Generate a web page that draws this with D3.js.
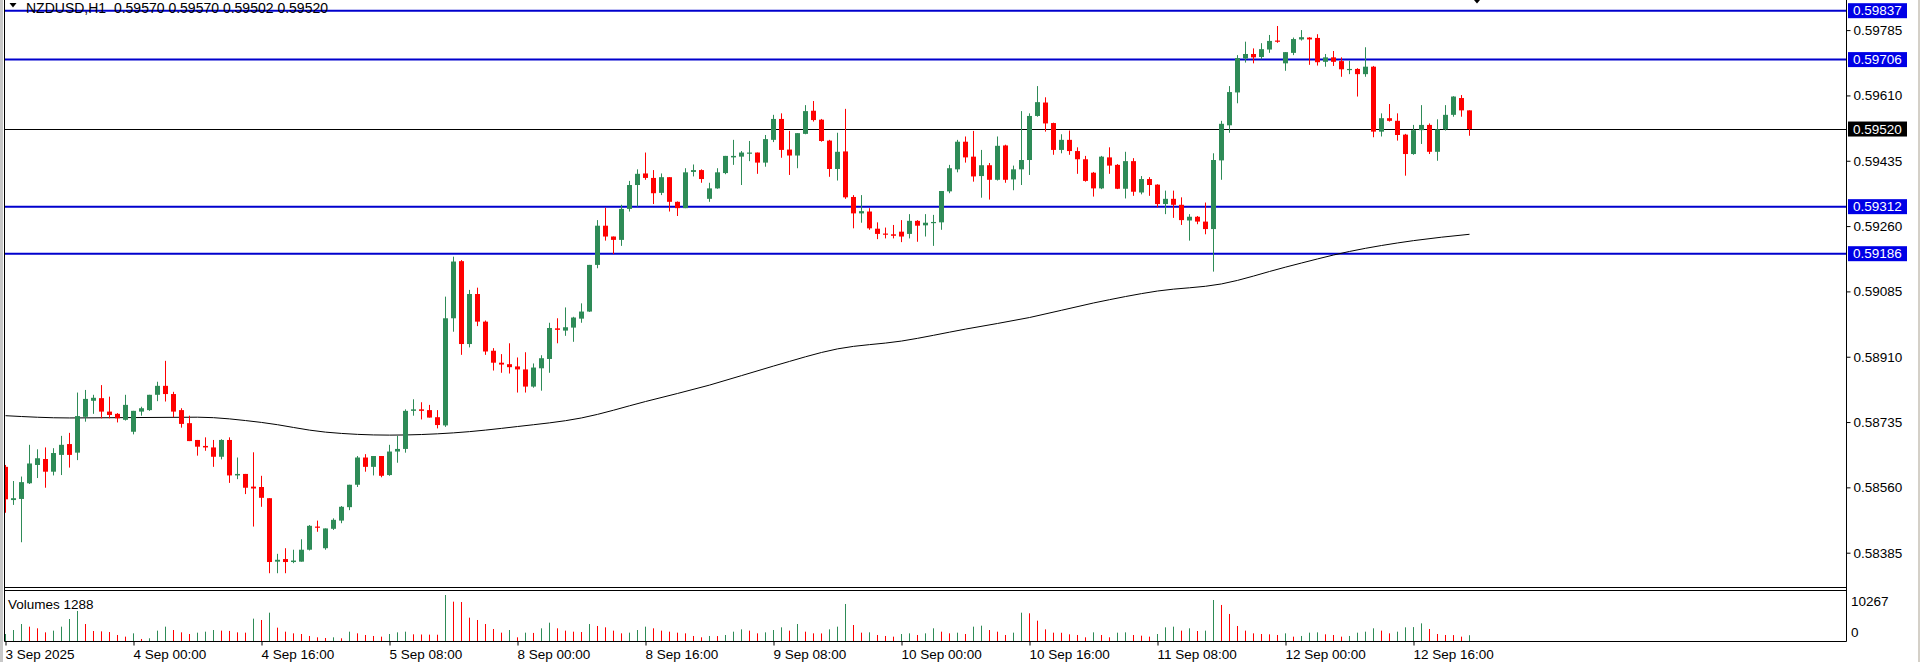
<!DOCTYPE html>
<html><head><meta charset="utf-8">
<script src="https://cdn.jsdelivr.net/npm/d3@7"></script>
<style>
html,body{margin:0;padding:0;background:#fff;overflow:hidden}
svg{display:block}
text{font-family:"Liberation Sans",Arial,sans-serif;font-size:13.5px;fill:#000}
</style></head><body>
<svg id="c" width="1920" height="662"></svg>
<script>
// ---------------- DATA ----------------
const chartTitle = "NZDUSD,H1\u00a0\u00a00.59570 0.59570 0.59502 0.59520";
const volumeTitle = "Volumes 1288";
const volumeMaxLabel = 10267;

// OHLC per hourly bar (bar 0 = 3 Sep 2025 08:00)
const opens = [0.58615,0.58526,0.58529,0.58571,0.58620,0.58636,0.58602,0.58647,0.58676,0.58653,0.58749,0.58792,0.58799,0.58763,0.58757,0.58741,0.58709,0.58763,0.58767,0.58808,0.58832,0.58810,0.58767,0.58732,0.58687,0.58671,0.58667,0.58642,0.58687,0.58592,0.58596,0.58562,0.58561,0.58531,0.58361,0.58368,0.58360,0.58361,0.58393,0.58455,0.58397,0.58449,0.58471,0.58507,0.58567,0.58640,0.58615,0.58644,0.58593,0.58656,0.58663,0.58765,0.58769,0.58767,0.58748,0.58726,0.59013,0.59166,0.58944,0.59078,0.59004,0.58926,0.58894,0.58890,0.58884,0.58876,0.58830,0.58879,0.58904,0.58986,0.58980,0.58988,0.59012,0.59031,0.59156,0.59261,0.59232,0.59223,0.59306,0.59370,0.59401,0.59389,0.59349,0.59391,0.59325,0.59308,0.59405,0.59410,0.59333,0.59361,0.59402,0.59444,0.59446,0.59457,0.59457,0.59430,0.59491,0.59547,0.59465,0.59449,0.59507,0.59569,0.59545,0.59489,0.59413,0.59460,0.59338,0.59294,0.59299,0.59253,0.59240,0.59238,0.59245,0.59239,0.59274,0.59262,0.59268,0.59270,0.59353,0.59412,0.59486,0.59446,0.59394,0.59423,0.59384,0.59476,0.59385,0.59412,0.59437,0.59555,0.59591,0.59536,0.59464,0.59491,0.59461,0.59439,0.59403,0.59361,0.59444,0.59424,0.59360,0.59434,0.59350,0.59386,0.59371,0.59319,0.59333,0.59317,0.59275,0.59285,0.59272,0.59252,0.59436,0.59530,0.59618,0.59709,0.59721,0.59713,0.59733,0.59757,0.59696,0.59724,0.59760,0.59765,0.59764,0.59700,0.59712,0.59702,0.59678,0.59681,0.59667,0.59687,0.59513,0.59549,0.59542,0.59505,0.59453,0.59517,0.59531,0.59459,0.59519,0.59558,0.59603,0.59570];
const highs = [0.58620,0.58577,0.58589,0.58674,0.58662,0.58667,0.58665,0.58698,0.58706,0.58814,0.58821,0.58808,0.58834,0.58803,0.58759,0.58808,0.58765,0.58776,0.58808,0.58843,0.58899,0.58816,0.58772,0.58752,0.58687,0.58694,0.58687,0.58689,0.58694,0.58640,0.58596,0.58654,0.58591,0.58531,0.58382,0.58397,0.58393,0.58421,0.58459,0.58471,0.58450,0.58477,0.58510,0.58567,0.58644,0.58649,0.58644,0.58644,0.58674,0.58698,0.58769,0.58796,0.58788,0.58781,0.58767,0.59071,0.59178,0.59169,0.59089,0.59095,0.59007,0.58933,0.58917,0.58946,0.58908,0.58922,0.58892,0.58914,0.59001,0.59013,0.59042,0.59017,0.59053,0.59156,0.59276,0.59309,0.59232,0.59317,0.59381,0.59412,0.59457,0.59410,0.59401,0.59391,0.59326,0.59415,0.59425,0.59412,0.59376,0.59415,0.59448,0.59491,0.59461,0.59488,0.59457,0.59504,0.59558,0.59562,0.59515,0.59509,0.59584,0.59595,0.59547,0.59491,0.59510,0.59574,0.59343,0.59343,0.59308,0.59270,0.59256,0.59263,0.59276,0.59292,0.59276,0.59292,0.59290,0.59354,0.59424,0.59491,0.59500,0.59515,0.59464,0.59429,0.59500,0.59478,0.59422,0.59568,0.59562,0.59635,0.59605,0.59537,0.59506,0.59516,0.59471,0.59448,0.59405,0.59448,0.59471,0.59426,0.59459,0.59442,0.59394,0.59391,0.59372,0.59355,0.59355,0.59337,0.59292,0.59287,0.59323,0.59455,0.59542,0.59635,0.59718,0.59754,0.59736,0.59750,0.59772,0.59796,0.59726,0.59765,0.59785,0.59766,0.59774,0.59721,0.59729,0.59712,0.59703,0.59683,0.59739,0.59689,0.59562,0.59587,0.59562,0.59507,0.59531,0.59584,0.59535,0.59546,0.59584,0.59608,0.59611,0.59570];
const lows = [0.58492,0.58513,0.58413,0.58569,0.58585,0.58559,0.58592,0.58593,0.58613,0.58633,0.58736,0.58757,0.58745,0.58745,0.58734,0.58739,0.58702,0.58752,0.58765,0.58791,0.58790,0.58748,0.58720,0.58684,0.58645,0.58658,0.58615,0.58635,0.58572,0.58582,0.58542,0.58455,0.58508,0.58330,0.58330,0.58330,0.58357,0.58361,0.58391,0.58441,0.58393,0.58446,0.58464,0.58499,0.58561,0.58602,0.58592,0.58587,0.58591,0.58626,0.58653,0.58752,0.58742,0.58747,0.58718,0.58722,0.58977,0.58915,0.58935,0.58992,0.58915,0.58873,0.58867,0.58865,0.58814,0.58814,0.58827,0.58819,0.58867,0.58946,0.58966,0.58950,0.59001,0.59030,0.59147,0.59221,0.59185,0.59207,0.59299,0.59312,0.59384,0.59319,0.59343,0.59299,0.59287,0.59308,0.59393,0.59376,0.59325,0.59360,0.59399,0.59424,0.59370,0.59434,0.59400,0.59419,0.59485,0.59443,0.59397,0.59415,0.59506,0.59540,0.59486,0.59392,0.59382,0.59333,0.59254,0.59269,0.59250,0.59225,0.59227,0.59227,0.59217,0.59227,0.59218,0.59232,0.59207,0.59250,0.59348,0.59404,0.59430,0.59379,0.59336,0.59331,0.59382,0.59376,0.59356,0.59370,0.59397,0.59553,0.59513,0.59451,0.59455,0.59451,0.59400,0.59379,0.59339,0.59359,0.59400,0.59359,0.59334,0.59341,0.59345,0.59341,0.59310,0.59292,0.59282,0.59263,0.59221,0.59265,0.59238,0.59138,0.59384,0.59510,0.59589,0.59698,0.59696,0.59707,0.59724,0.59751,0.59676,0.59718,0.59757,0.59692,0.59690,0.59687,0.59689,0.59660,0.59667,0.59607,0.59660,0.59498,0.59500,0.59540,0.59489,0.59395,0.59451,0.59480,0.59453,0.59435,0.59516,0.59553,0.59553,0.59502];
const closes = [0.58528,0.58531,0.58574,0.58624,0.58638,0.58602,0.58652,0.58674,0.58647,0.58751,0.58797,0.58800,0.58763,0.58754,0.58745,0.58781,0.58765,0.58772,0.58808,0.58832,0.58810,0.58763,0.58730,0.58684,0.58669,0.58667,0.58642,0.58687,0.58592,0.58596,0.58559,0.58557,0.58532,0.58360,0.58366,0.58360,0.58364,0.58393,0.58457,0.58452,0.58450,0.58473,0.58508,0.58567,0.58640,0.58615,0.58644,0.58591,0.58656,0.58663,0.58765,0.58769,0.58765,0.58747,0.58727,0.59013,0.59165,0.58944,0.59078,0.59004,0.58924,0.58894,0.58889,0.58882,0.58876,0.58830,0.58881,0.58906,0.58987,0.58982,0.58989,0.59015,0.59031,0.59156,0.59261,0.59232,0.59223,0.59306,0.59370,0.59400,0.59389,0.59348,0.59391,0.59325,0.59308,0.59404,0.59410,0.59386,0.59361,0.59404,0.59448,0.59448,0.59457,0.59457,0.59430,0.59493,0.59547,0.59464,0.59449,0.59509,0.59568,0.59544,0.59488,0.59413,0.59459,0.59337,0.59294,0.59300,0.59254,0.59239,0.59238,0.59234,0.59232,0.59274,0.59261,0.59269,0.59271,0.59354,0.59415,0.59486,0.59444,0.59393,0.59423,0.59384,0.59475,0.59384,0.59412,0.59437,0.59555,0.59592,0.59535,0.59464,0.59491,0.59461,0.59439,0.59381,0.59361,0.59446,0.59422,0.59360,0.59434,0.59352,0.59386,0.59370,0.59319,0.59333,0.59317,0.59276,0.59285,0.59272,0.59252,0.59437,0.59534,0.59619,0.59710,0.59721,0.59712,0.59734,0.59756,0.59754,0.59726,0.59761,0.59766,0.59760,0.59699,0.59712,0.59700,0.59680,0.59681,0.59667,0.59687,0.59513,0.59549,0.59542,0.59504,0.59453,0.59517,0.59531,0.59459,0.59519,0.59558,0.59607,0.59570,0.59520];
const volumes = [1560,2450,3790,3200,2830,1930,2310,3200,4910,6700,3790,2230,2150,2000,1340,970,1710,450,600,2310,3200,2450,1930,1560,1860,2080,2450,2310,2250,1930,1860,4990,4690,6320,2980,2080,1710,1560,1120,820,670,820,600,2080,1710,1340,1120,970,1560,1930,2080,1490,1450,1420,1400,10267,8780,8700,5210,4690,3790,2680,1860,2450,820,1860,1800,2830,4090,2830,2310,2080,2000,3790,3350,3050,2310,1710,1860,2450,3200,2830,2310,2080,1860,1710,1120,820,1120,1100,1340,2080,2600,2310,1710,1930,2450,3050,2310,3790,2080,1710,1690,2600,3200,8260,3570,1860,1930,1340,1120,970,1560,1710,1340,1710,2830,2080,1710,1860,1560,3200,3420,2450,2080,1340,1860,6320,6180,4540,2600,1860,1840,1490,1340,820,1930,1340,820,1860,1930,1340,1190,970,1560,3050,3200,2310,2830,2230,2310,9150,8040,6030,3350,2310,1710,1560,1490,1340,1710,970,1120,1860,1930,1490,1340,970,1120,1860,2080,2830,2310,1710,2080,3050,3100,3940,2680,1560,1340,1320,970,1288];

// moving average read at every 8th bar
const maBars = [0,8,16,24,32,40,48,56,64,72,80,88,96,104,112,120,128,136,144,152,160,168,176,183];
const maValues = [0.58752,0.58746,0.58747,0.58748,0.58734,0.58708,0.58700,0.58706,0.58723,0.58746,0.58790,0.58834,0.58885,0.58931,0.58952,0.58984,0.59015,0.59054,0.59086,0.59105,0.59150,0.59192,0.59221,0.59238];

const priceTicks = [0.59785,0.59610,0.59435,0.59260,0.59085,0.58910,0.58735,0.58560,0.58385];
const levelLines = [0.59837,0.59706,0.59312,0.59186];
const bidPrice = 0.59520;

const timeTickBars = [0,16,32,48,64,80,96,112,128,144,160,176];
const timeTickLabels = ["3 Sep 2025","4 Sep 00:00","4 Sep 16:00","5 Sep 08:00","8 Sep 00:00","8 Sep 16:00","9 Sep 08:00","10 Sep 00:00","10 Sep 16:00","11 Sep 08:00","12 Sep 00:00","12 Sep 16:00"];

// ---------------- LAYOUT ----------------
const W = 1920, H = 662;
const left = 4.5, axisX = 1846.5;
const mainBottom = 587.5, volTop = 590.5, volBottom = 641.5;
const UP = "#2e8b57", DOWN = "#ff0000", LEVEL = "#0000cd", LEVELBOX = "#0000e6";

const svg = d3.select("#c");
svg.append("rect").attr("width", W).attr("height", H).attr("fill", "#fff");

const n = opens.length;
const x = d3.scaleLinear().domain([0, n - 1]).range([5.5, 5.5 + 8 * (n - 1)]);
const y = d3.scaleLinear().domain([0.582931, 0.598603]).range([587, 2]);
const vy = d3.scaleLinear().domain([0, volumeMaxLabel]).range([641, 595]);

svg.append("clipPath").attr("id", "mainClip").append("rect")
  .attr("x", left + 0.5).attr("y", 0).attr("width", axisX - left - 1).attr("height", mainBottom);

const main = svg.append("g").attr("clip-path", "url(#mainClip)");

// level lines
main.selectAll("line.level").data(levelLines).join("line")
  .attr("x1", left).attr("x2", axisX)
  .attr("y1", d => y(d)).attr("y2", d => y(d))
  .attr("stroke", LEVEL).attr("stroke-width", 2);

// bid line
main.append("line").attr("x1", left).attr("x2", axisX)
  .attr("y1", Math.round(y(bidPrice)) + 0.5).attr("y2", Math.round(y(bidPrice)) + 0.5)
  .attr("stroke", "#000").attr("stroke-width", 1);

// moving average
const maLine = d3.line().x((d, i) => x(maBars[i])).y(d => y(d)).curve(d3.curveMonotoneX);
main.append("path").attr("d", maLine(maValues)).attr("fill", "none")
  .attr("stroke", "#000").attr("stroke-width", 1);

// candles
const idx = d3.range(n);
const col = i => closes[i] >= opens[i] ? UP : DOWN;
main.selectAll("line.wick").data(idx).join("line")
  .attr("x1", i => x(i)).attr("x2", i => x(i))
  .attr("y1", i => y(highs[i])).attr("y2", i => y(lows[i]))
  .attr("stroke", col).attr("stroke-width", 1);
main.selectAll("rect.body").data(idx).join("rect")
  .attr("x", i => x(i) - 2.5).attr("width", 5)
  .attr("y", i => Math.min(y(opens[i]), y(closes[i])))
  .attr("height", i => Math.max(1.2, Math.abs(y(opens[i]) - y(closes[i]))))
  .attr("fill", col);

// chart shift marker
svg.append("path").attr("d", "M1474,0 L1480,0 L1477,3.5 Z").attr("fill", "#000");

// header
svg.append("path").attr("d", "M9.5,3 L16.5,3 L13,7.5 Z").attr("fill", "#000");
svg.append("text").attr("x", 26).attr("y", 13).style("font-size", "14px").text(chartTitle);

// price axis
const yAxis = d3.axisRight(y).tickValues(priceTicks).tickSize(4).tickPadding(3)
  .tickFormat(d3.format(".5f"));
const gy = svg.append("g").attr("transform", `translate(${axisX},0)`).call(yAxis);
gy.select(".domain").remove();
gy.selectAll("text").attr("font-size", null).attr("font-family", null);
gy.selectAll("line").attr("stroke", "#000");

// level labels
levelLines.forEach(v => {
  svg.append("rect").attr("x", 1848).attr("y", y(v) - 7.5).attr("width", 59).attr("height", 15).attr("fill", LEVELBOX);
  svg.append("text").attr("x", 1853).attr("y", y(v)).attr("dy", "0.35em").style("fill", "#fff").text(d3.format(".5f")(v));
});
svg.append("rect").attr("x", 1848).attr("y", y(bidPrice) - 7.5).attr("width", 59).attr("height", 15).attr("fill", "#000");
svg.append("text").attr("x", 1853).attr("y", y(bidPrice)).attr("dy", "0.35em").style("fill", "#fff").text(d3.format(".5f")(bidPrice));

// volume panel
const volG = svg.append("g");
volG.selectAll("line.vol").data(idx).join("line")
  .attr("x1", i => x(i)).attr("x2", i => x(i))
  .attr("y1", vy(0)).attr("y2", i => vy(volumes[i]))
  .attr("stroke", i => (i === 0 || volumes[i] > volumes[i - 1]) ? UP : DOWN)
  .attr("stroke-width", 1);
svg.append("text").attr("x", 8).attr("y", 604).attr("dy", "0.35em").text(volumeTitle);
svg.append("text").attr("x", 1851).attr("y", 601).attr("dy", "0.35em").text(volumeMaxLabel);
svg.append("text").attr("x", 1851).attr("y", 632).attr("dy", "0.35em").text(0);

// time axis
const xAxis = d3.axisBottom(x).tickValues(timeTickBars).tickSize(4)
  .tickFormat((d, i) => timeTickLabels[i]);
const gx = svg.append("g").attr("transform", `translate(0,${volBottom})`).call(xAxis);
gx.select(".domain").remove();
gx.selectAll("text").attr("font-size", null).attr("font-family", null)
  .attr("text-anchor", "start").attr("x", -0.5).attr("y", 8);
gx.selectAll("line").attr("stroke", "#000");

// frames
const frame = svg.append("g").attr("stroke", "#000").attr("stroke-width", 1).attr("fill", "none");
frame.append("line").attr("x1", left).attr("x2", left).attr("y1", 0).attr("y2", volBottom);
frame.append("line").attr("x1", axisX).attr("x2", axisX).attr("y1", 0).attr("y2", volBottom);
frame.append("line").attr("x1", left).attr("x2", axisX).attr("y1", mainBottom).attr("y2", mainBottom);
frame.append("line").attr("x1", left).attr("x2", axisX).attr("y1", volTop).attr("y2", volTop);
frame.append("line").attr("x1", left).attr("x2", axisX).attr("y1", volBottom).attr("y2", volBottom);
svg.append("rect").attr("x", 0).attr("y", 0).attr("width", 3).attr("height", H).attr("fill", "#c8c8c8");
svg.append("rect").attr("x", 1918).attr("y", 0).attr("width", 2).attr("height", H).attr("fill", "#d4d0c8");
</script>
</body></html>
